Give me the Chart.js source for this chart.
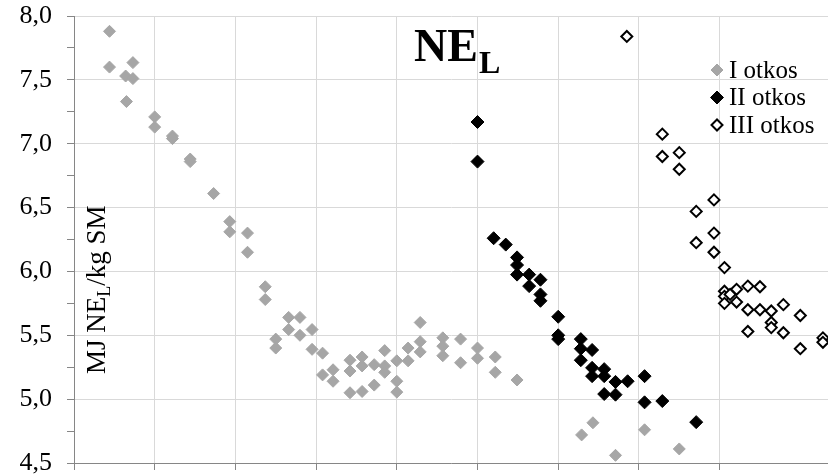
<!DOCTYPE html>
<html><head><meta charset="utf-8">
<script src="https://cdn.jsdelivr.net/npm/chart.js@4.4.1/dist/chart.umd.min.js"></script>
<style>html,body{margin:0;padding:0;background:#fff;}#wrap{width:828px;height:476px;position:relative;}</style>
</head><body><div id="wrap"><canvas id="c" width="828" height="476"></canvas></div>
<script>
const seriesNames = ['I otkos', 'II otkos', 'III otkos'];
const titleMain = 'NE';
const titleSub = 'L';
const yTitleParts = ['MJ NE', 'L', '/kg SM'];

const otkosI = [[0.44,7.88],[0.44,7.60],[0.73,7.635],[0.64,7.53],[0.73,7.51],[0.65,7.33],[1.00,7.21],[1.00,7.13],[1.22,7.06],[1.22,7.04],[1.44,6.88],[1.44,6.86],[1.73,6.61],[1.93,6.39],[1.93,6.31],[2.15,6.30],[2.15,6.15],[2.37,5.88],[2.37,5.78],[2.50,5.47],[2.50,5.40],[2.66,5.64],[2.80,5.64],[2.66,5.545],[2.80,5.50],[2.95,5.545],[2.95,5.39],[3.08,5.36],[3.08,5.19],[3.21,5.23],[3.21,5.14],[3.42,5.305],[3.42,5.22],[3.42,5.05],[3.57,5.33],[3.57,5.26],[3.57,5.06],[3.72,5.27],[3.72,5.11],[3.85,5.38],[3.85,5.26],[3.85,5.21],[4.00,5.30],[4.00,5.14],[4.00,5.055],[4.14,5.40],[4.14,5.30],[4.29,5.60],[4.29,5.45],[4.29,5.37],[4.57,5.48],[4.57,5.415],[4.57,5.34],[4.79,5.47],[4.79,5.285],[5.00,5.40],[5.00,5.32],[5.22,5.33],[5.22,5.21],[5.49,5.15],[6.29,4.72],[6.43,4.815],[6.71,4.56],[7.07,4.76],[7.50,4.61]];
const otkosII = [[5.00,7.17],[5.00,6.86],[5.20,6.26],[5.35,6.21],[5.49,6.11],[5.49,6.05],[5.49,5.975],[5.64,5.975],[5.64,5.885],[5.78,5.935],[5.78,5.82],[5.78,5.77],[6.00,5.645],[6.00,5.50],[6.00,5.47],[6.28,5.47],[6.28,5.395],[6.28,5.305],[6.42,5.385],[6.42,5.245],[6.42,5.18],[6.57,5.235],[6.57,5.18],[6.57,5.04],[6.71,5.135],[6.71,5.035],[6.86,5.14],[7.07,5.18],[7.07,4.975],[7.29,4.985],[7.71,4.82]];
const otkosIII = [[6.85,7.84],[7.29,7.075],[7.29,6.90],[7.50,6.93],[7.50,6.80],[7.93,6.56],[7.71,6.47],[7.93,6.30],[7.71,6.225],[7.93,6.15],[8.06,6.03],[8.06,5.845],[8.06,5.805],[8.06,5.75],[8.13,5.82],[8.21,5.86],[8.21,5.76],[8.35,5.885],[8.35,5.70],[8.35,5.53],[8.50,5.88],[8.50,5.70],[8.64,5.69],[8.64,5.60],[8.64,5.56],[8.79,5.74],[8.79,5.52],[9.00,5.655],[9.00,5.395],[9.28,5.48],[9.28,5.445]];

const yMin = 4.5, yMax = 8.0, yStep = 0.25;
const xMin = 0, xMax = 9.343, xStep = 1;

const SERIF = "'Liberation Serif', 'Times New Roman', serif";
const GRAY = '#a6a6a6';
const styles = [
  {bg: GRAY, border: GRAY, bw: 1, r: 6},
  {bg: '#000', border: '#000', bw: 1, r: 6.5},
  {bg: '#fff', border: '#000', bw: 2, r: 5.5}
];
const toPts = arr => arr.map(p => ({x: p[0], y: p[1]}));
const seriesData = [otkosI, otkosII, otkosIII];

const isMajor = v => Math.abs(v * 2 - Math.round(v * 2)) < 1e-6;

const overlay = {
  id: 'overlay',
  afterDraw(chart) {
    const ctx = chart.ctx;
    ctx.save();
    ctx.fillStyle = '#000';
    ctx.textBaseline = 'alphabetic';
    ctx.textAlign = 'left';
    ctx.font = 'bold 46px ' + SERIF;
    ctx.fillText(titleMain, 414, 61);
    const w = ctx.measureText(titleMain).width;
    ctx.font = 'bold 32px ' + SERIF;
    ctx.fillText(titleSub, 414 + w + 1, 73);
    ctx.save();
    ctx.translate(105, 374);
    ctx.rotate(-Math.PI / 2);
    ctx.font = '27px ' + SERIF;
    ctx.fillText(yTitleParts[0], 0, 0);
    let x = ctx.measureText(yTitleParts[0]).width;
    ctx.font = '18px ' + SERIF;
    ctx.fillText(yTitleParts[1], x, 5);
    x += ctx.measureText(yTitleParts[1]).width;
    ctx.font = '27px ' + SERIF;
    ctx.fillText(yTitleParts[2], x, 0);
    ctx.restore();
    const rows = [70, 97.5, 125];
    seriesNames.forEach((name, i) => {
      const s = styles[i];
      ctx.fillStyle = s.bg; ctx.strokeStyle = s.border; ctx.lineWidth = s.bw;
      ctx.beginPath();
      ctx.moveTo(717 - s.r, rows[i]); ctx.lineTo(717, rows[i] - s.r);
      ctx.lineTo(717 + s.r, rows[i]); ctx.lineTo(717, rows[i] + s.r); ctx.closePath();
      ctx.fill(); ctx.stroke();
      ctx.fillStyle = '#000';
      ctx.font = '25px ' + SERIF;
      ctx.textBaseline = 'middle';
      ctx.fillText(name, 729, rows[i] + 1);
    });
    ctx.restore();
  }
};

new Chart(document.getElementById('c'), {
  type: 'scatter',
  data: {
    datasets: seriesData.map((d, i) => ({
      label: seriesNames[i],
      data: toPts(d),
      pointStyle: 'rectRot',
      pointRadius: styles[i].r,
      pointHoverRadius: styles[i].r,
      backgroundColor: styles[i].bg,
      borderColor: styles[i].border,
      borderWidth: styles[i].bw,
      showLine: false
    }))
  },
  options: {
    responsive: false,
    animation: false,
    devicePixelRatio: 1,
    layout: {autoPadding: false, padding: {top: 16, right: 0, left: 0, bottom: 0}},
    plugins: {legend: {display: false}, tooltip: {enabled: false}},
    scales: {
      x: {
        type: 'linear', min: xMin, max: xMax,
        ticks: {display: false, stepSize: xStep},
        afterBuildTicks: s => { s.ticks = s.ticks.filter(t => Math.abs(t.value - Math.round(t.value)) < 1e-6); },
        grid: {color: '#d9d9d9', tickColor: '#868686', tickLength: 7, drawTicks: true},
        border: {color: '#868686'},
        afterFit: s => { s.height = 13; s.paddingLeft = 0; s.paddingRight = 0; s.paddingTop = 0; s.paddingBottom = 0; }
      },
      y: {
        min: yMin, max: yMax,
        ticks: {
          stepSize: yStep, autoSkip: false, padding: 15, color: '#000',
          font: {family: SERIF, size: 26},
          callback: v => isMajor(v) ? v.toFixed(1).replace('.', ',') : ''
        },
        grid: {
          color: c => (c.tick && isMajor(c.tick.value)) ? '#d9d9d9' : 'rgba(0,0,0,0)',
          tickColor: '#868686', tickLength: 7, drawTicks: true
        },
        border: {color: '#868686'},
        afterFit: s => { s.width = 74; s.paddingTop = 0; s.paddingBottom = 0; s.paddingLeft = 0; s.paddingRight = 0; }
      }
    }
  },
  plugins: [overlay]
});
</script></body></html>
